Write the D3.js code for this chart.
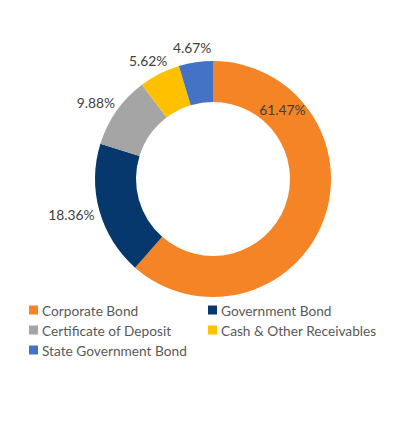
<!DOCTYPE html>
<html>
<head>
<meta charset="utf-8">
<script src="https://cdn.jsdelivr.net/npm/d3@7"></script>
<style>
body{margin:0;background:#fff;font-family:Lato,"Open Sans",sans-serif;}
</style>
</head>
<body>
<script>
var categories = ['Corporate Bond','Government Bond','Certificate of Deposit','Cash & Other Receivables','State Government Bond'];
var values = [61.47, 18.36, 9.88, 5.62, 4.67];
var labels = ['61.47%','18.36%','9.88%','5.62%','4.67%'];
var colors = ['#F58426','#07386D','#A5A5A5','#FFC000','#4472C4'];

var width = 396, height = 434;
var cx = 213, cy = 179, outer = 118, inner = 77;

var svg = d3.select('body').append('svg').attr('width',width).attr('height',height);
var pie = d3.pie().sort(null).value(d=>d);
var arcs = pie(values);
var arc = d3.arc().innerRadius(inner).outerRadius(outer);

var g = svg.append('g').attr('transform','translate('+cx+','+cy+')');
g.selectAll('path').data(arcs).enter().append('path')
	.attr('d',arc)
	.attr('fill',(d,i)=>colors[i]);

// labels: biggest slice inside the ring, the rest just outside
var lab = g.selectAll('text').data(arcs).enter().append('text')
	.attr('font-size',13.8)
	.attr('fill','#404040')
	.attr('dominant-baseline','central')
	.attr('text-anchor','middle')
	.text((d,i)=>labels[i]);
lab.each(function(d,i){
	var t = d3.select(this), a, r;
	var bb = this.getBBox();
	if(i==0){
		a = d.startAngle + Math.PI/4; r = inner + 21;
		t.attr('x',Math.sin(a)*r).attr('y',-Math.cos(a)*r);
	} else {
		a = (d.startAngle+d.endAngle)/2; r = outer + 6;
		t.attr('x',Math.sin(a)*r + Math.sin(a)*bb.width/2)
		 .attr('y',-Math.cos(a)*r - Math.cos(a)*bb.height/2);
	}
});

var legend = svg.append('g').selectAll('g').data(categories).enter().append('g')
	.attr('transform',(d,i)=>'translate('+(i%2 ? 208 : 29)+','+(310+Math.floor(i/2)*20)+')');
legend.append('rect').attr('x',0).attr('y',-4.5).attr('width',9).attr('height',9)
	.attr('fill',(d,i)=>colors[i]);
legend.append('text').attr('x',13).attr('dominant-baseline','central')
	.attr('font-size',13.7).attr('fill','#595959').text(d=>d);
</script>
</body>
</html>
